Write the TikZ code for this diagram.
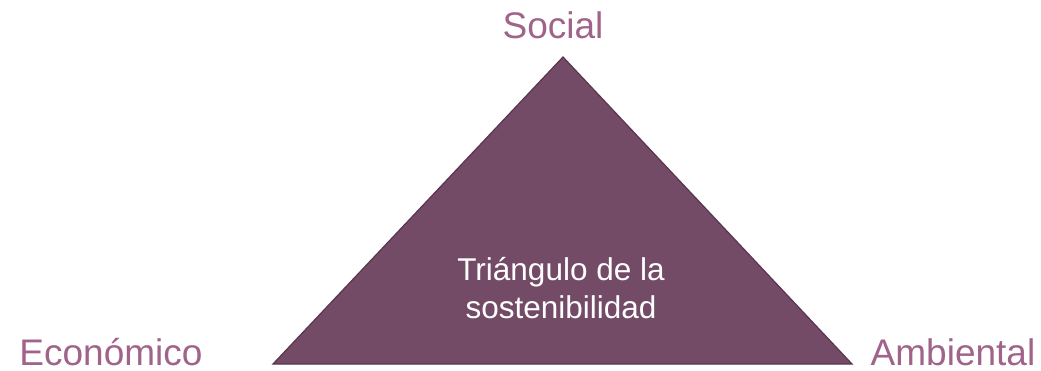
\documentclass[tikz,border=0pt]{standalone}
\usepackage{fontspec}
\setmainfont{Liberation Sans}
\usepackage{tikz}

\definecolor{plum}{HTML}{744B67}
\definecolor{plumline}{HTML}{5A3550}
\definecolor{plumtext}{HTML}{A0638A}

\tikzset{
  corner/.style={text=plumtext, anchor=base, inner sep=0pt, text depth=0pt, font=\fontsize{37}{44}\selectfont},
}

\begin{document}
\begin{tikzpicture}[x=1pt,y=-1pt]
      \useasboundingbox (0,0) rectangle (1041,371);

      \coordinate (top) at (563,57);
      \coordinate (left) at (273,364);
      \coordinate (right) at (852,364);

      \draw[plumline, fill=plum, line width=1.2pt, line join=miter] (top) -- (left) -- (right) -- cycle;

      \node[corner] (social) at (553,39) {Social};
      \node[corner] (econ) at (111,365) {Económico};
      \node[corner] (amb) at (953,365) {Ambiental};

      \node[text=white, align=center, inner sep=0pt, font=\fontsize{31.5}{38}\selectfont] (core) at (561,288) {Triángulo de la\\sostenibilidad};
    \end{tikzpicture}
\end{document}
